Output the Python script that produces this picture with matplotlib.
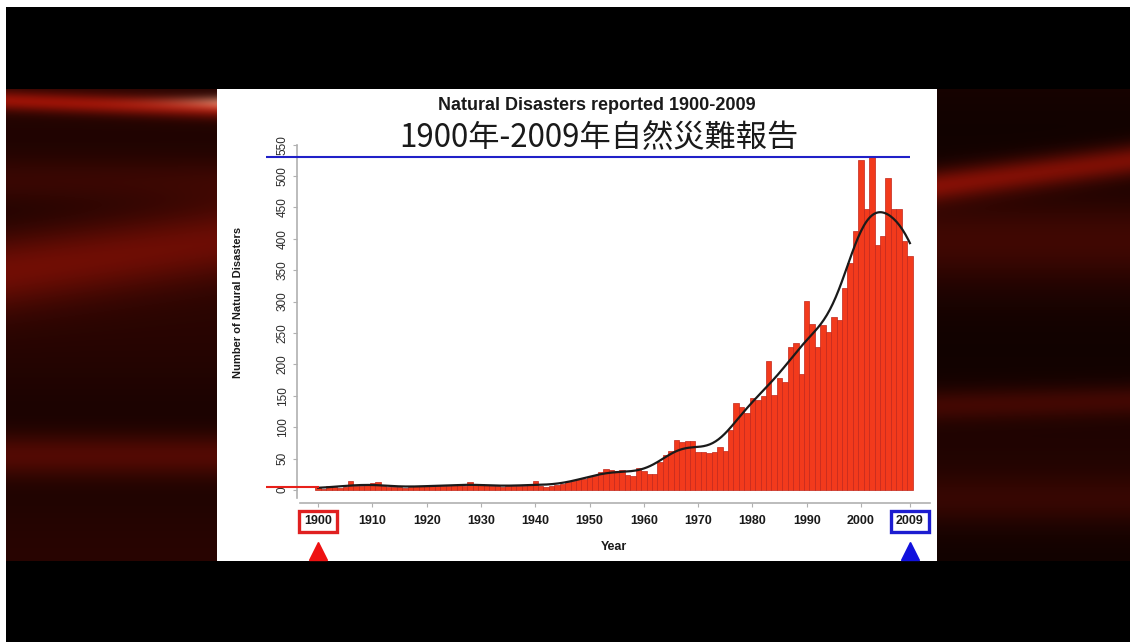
import numpy as np
import matplotlib
matplotlib.use('Agg')
import matplotlib.pyplot as plt
from matplotlib.patches import Rectangle
from matplotlib.transforms import blended_transform_factory

# data
years = np.arange(1900, 2010)
counts = [5, 2, 6, 5, 3, 5, 14, 6, 7, 9,
          11, 13, 6, 5, 4, 5, 3, 5, 6, 6,
          6, 6, 8, 7, 6, 8, 9, 7, 13, 8,
          9, 8, 6, 6, 5, 7, 6, 6, 7, 9,
          15, 6, 5, 6, 8, 9, 12, 14, 18, 18,
          20, 22, 28, 33, 32, 31, 32, 24, 22, 35,
          30, 25, 26, 45, 55, 62, 80, 77, 78, 78,
          60, 60, 59, 60, 68, 62, 95, 138, 132, 122,
          146, 143, 150, 205, 152, 178, 172, 228, 234, 185,
          301, 265, 228, 262, 252, 275, 270, 321, 361, 413,
          525, 448, 530, 390, 405, 497, 448, 448, 397, 373]
xticks = [1900, 1910, 1920, 1930, 1940, 1950, 1960, 1970, 1980, 1990, 2000, 2009]
yticks = list(range(0, 551, 50))
title_en = "Natural Disasters reported 1900-2009"
title_zh = "1900年-2009年自然災難報告"

x = years.astype(float)
y = np.array(counts, dtype=float)


def local_fit(x, y, grid, bw=3.2):
    # local linear smoother with gaussian weights
    out = []
    for g in grid:
        w = np.exp(-0.5 * ((x - g) / bw) ** 2)
        X = np.vstack([np.ones_like(x), x - g]).T
        A = X.T @ (X * w[:, None])
        b = X.T @ (w * y)
        out.append(np.linalg.solve(A, b)[0])
    return np.array(out)


grid = np.linspace(x.min(), x.max(), 400)
trend = local_fit(x, y, grid)

W, H = 1130, 642
fig = plt.figure(figsize=(W / 100, H / 100), dpi=100)
fig.patch.set_facecolor('black')

# slide background: black bands, soft dark red swirl on the sides
bg = fig.add_axes([0, 0, 1, 1])
bg.set_xlim(0, W)
bg.set_ylim(H, 0)
bg.axis('off')
yy, xx = np.mgrid[0:H, 0:W].astype(float)
left = xx < 600
xl = xx / 217.0
xr = (xx - 937) / 193.0
base = np.where(left, 0.13 + 0.03 * np.sin(yy / 40.0), 0.10 + 0.03 * np.sin(yy / 35.0 + 1))
b1 = np.where(left, 0.45 * np.exp(-((yy - 100 - 8 * xl) / 10) ** 2),
              0.40 * np.exp(-((yy - 185 + 25 * xr) / 16) ** 2))
b2 = np.where(left, 0.30 * np.exp(-((yy - 270 + 30 * xl) / 38) ** 2),
              0.16 * np.exp(-((yy - 405 + 5 * xr) / 16) ** 2))
b3 = np.where(left, 0.22 * np.exp(-((yy - 455) / 22) ** 2),
              0.12 * np.exp(-((yy - 240) / 40) ** 2))
b4 = np.where(left, 0.12 * np.exp(-((yy - 180) / 25) ** 2),
              0.10 * np.exp(-((yy - 500) / 25) ** 2))
r = base + b1 + b2 + b3 + b4
glow = np.where(left, np.exp(-((yy - 102) / 7) ** 2) * xl ** 4, 0)
img = np.zeros((H, W, 3))
img[..., 0] = np.clip(r + 0.3 * glow, 0, 1)
img[..., 1] = np.clip(0.12 * r + 0.35 * glow, 0, 1)
img[..., 2] = np.clip(0.04 * r + 0.3 * glow, 0, 1)
mask = (yy < 89) | (yy > 560)
img[mask] = 0
img[:7, :] = 1
img[:, :6] = 1
bg.imshow(img, extent=(0, W, H, 0), aspect='auto', interpolation='bilinear')
bg.add_patch(Rectangle((217, 89), 720, 472, facecolor='white', edgecolor='none'))

# chart
ax = fig.add_axes([297 / W, 1 - 503 / H, (930 - 297) / W, (503 - 144) / H])
ax.set_facecolor('none')
ax.bar(x, y, width=1.0, color='#f23a1c', edgecolor='#c2261a', linewidth=0.5, zorder=2)
ax.plot(grid, trend, color='#1a1a1a', lw=1.6, zorder=3)
ax.set_xlim(1896.1, 2012.7)
ax.set_ylim(-20.7, 551)

for s in ['top', 'right']:
    ax.spines[s].set_visible(False)
ax.spines['left'].set_color('#b0b0b0')
ax.spines['bottom'].set_color('#b0b0b0')
ax.spines['left'].set_linewidth(1.2)
ax.spines['bottom'].set_linewidth(1.2)
ax.spines['left'].set_bounds(-12, 550)
ax.spines['bottom'].set_bounds(1896.6, 2012.7)

ax.set_yticks(yticks)
ax.set_yticklabels([str(v) for v in yticks], rotation=90, va='center',
                   fontsize=8.5, color='#2a2a2a', family='Liberation Sans')
ax.set_xticks(xticks)
ax.set_xticklabels([str(v) for v in xticks], fontsize=9, color='#1a1a1a',
                   fontweight='bold', family='Liberation Sans')
ax.tick_params(axis='y', length=3, color='#b0b0b0', pad=3)
ax.tick_params(axis='x', length=3, color='#b0b0b0', pad=6)

ax.set_ylabel('Number of Natural Disasters', fontsize=8, color='#1a1a1a',
              fontweight='bold', family='Liberation Sans')
ax.yaxis.set_label_coords(-0.085, 0.56)
ax.set_xlabel('Year', fontsize=9, color='#1a1a1a', fontweight='bold',
              family='Liberation Sans')
ax.xaxis.set_label_coords(0.5, -0.105)

# reference lines: peak (blue) and 1900 level (red)
ax.hlines(max(counts), 1890.4, 2009, color='#2020c8', lw=1.5, clip_on=False, zorder=4)
ax.hlines(counts[0], 1890.4, 1900.2, color='#e8201a', lw=1.5, clip_on=False, zorder=4)

# boxed first / last year with arrows
labels = ax.get_xticklabels()
labels[0].set_bbox(dict(facecolor='none', edgecolor='#e02020', lw=2.4, pad=3.5))
labels[-1].set_bbox(dict(facecolor='none', edgecolor='#1c1cd0', lw=2.4, pad=3.5))
tr = blended_transform_factory(ax.transData, ax.transAxes)
ax.plot([xticks[0]], [-0.135], marker='^', markersize=13, color='#ee1111',
        transform=tr, clip_on=False)
ax.plot([xticks[-1]], [-0.135], marker='^', markersize=13, color='#1111dd',
        transform=tr, clip_on=False)

fig.text(597 / W, 1 - 105 / H, title_en, ha='center', va='center',
         fontsize=13, fontweight='bold', color='#1a1a1a', family='Liberation Sans')
fig.text(599 / W, 1 - 137 / H, title_zh, ha='center', va='center',
         fontsize=22.5, color='#1a1a1a', family=['Noto Sans CJK TC', 'DejaVu Sans'])

fig.savefig('out.png', dpi=100, facecolor=fig.get_facecolor())
